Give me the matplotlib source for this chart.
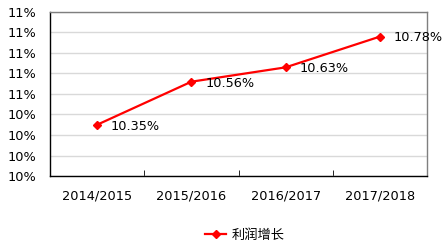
import math
import matplotlib
matplotlib.use("Agg")
import matplotlib.pyplot as plt
from matplotlib.ticker import FuncFormatter, FixedLocator

plt.rcParams['font.family'] = ['DejaVu Sans']

years = ["2014/2015", "2015/2016", "2016/2017", "2017/2018"]
profit_growth = [10.35, 10.56, 10.63, 10.78]
series_name = "利润增长"
y_ticks = [10.1, 10.2, 10.3, 10.4, 10.5, 10.6, 10.7, 10.8, 10.9]

fig = plt.figure(figsize=(4.46, 2.43), dpi=100)
ax = fig.add_axes([50 / 446, 1 - 176 / 243, 377 / 446, 164 / 243])

x = list(range(len(years)))
line, = ax.plot(x, profit_growth, color="#FF0000", lw=1.6, marker="D",
                markersize=4.5, markerfacecolor="#FF0000", markeredgecolor="#FF0000",
                label=series_name, zorder=3)

for xi, v in zip(x, profit_growth):
    ax.annotate(f"{v:.2f}%", (xi, v), xytext=(10, -1), textcoords="offset points",
                ha="left", va="center", fontsize=9.3, color="#000000")

ax.set_xlim(-0.5, len(years) - 0.5)
ax.set_ylim(y_ticks[0], y_ticks[-1])
ax.yaxis.set_major_locator(FixedLocator(y_ticks))
ax.yaxis.set_major_formatter(FuncFormatter(lambda v, p: f"{math.floor(v + 0.5 + 1e-9):.0f}%"))
ax.grid(axis="y", color="#D9D9D9", lw=1.0)
ax.set_axisbelow(True)

ax.set_xticks(x)
ax.set_xticklabels(years)
ax.set_xticks([i + 0.5 for i in x[:-1]], minor=True)
ax.tick_params(axis="x", which="major", length=0, pad=10, labelsize=9.3)
ax.tick_params(axis="x", which="minor", direction="in", length=4, color="#000000")
ax.tick_params(axis="y", length=0, pad=9.5, labelsize=9.3)

for side in ["left", "bottom"]:
    ax.spines[side].set_color("#000000")
    ax.spines[side].set_linewidth(1.0)
for side in ["top", "right"]:
    ax.spines[side].set_color("#7F7F7F")
    ax.spines[side].set_linewidth(1.0)

leg = fig.legend(handles=[line], loc="center", bbox_to_anchor=(245 / 446, 1 - 235 / 243),
                 frameon=False, handlelength=1.6, handletextpad=0.45,
                 prop={"family": ["Noto Sans CJK SC", "DejaVu Sans"], "size": 9.5})

fig.savefig("out.png", dpi=100)
